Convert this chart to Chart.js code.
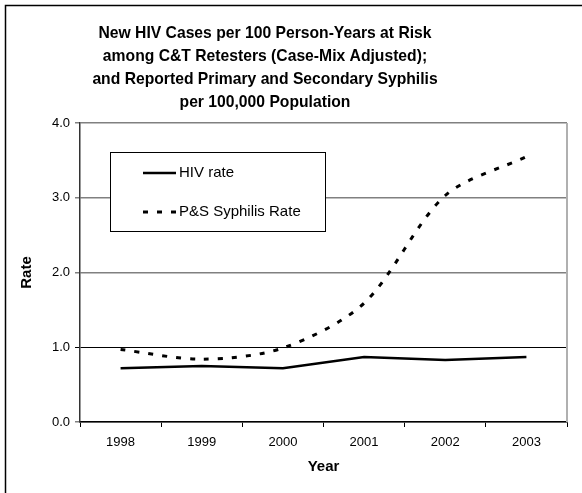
<!DOCTYPE html>
<html>
<head>
<meta charset="utf-8">
<script src="https://cdn.jsdelivr.net/npm/chart.js@4.4.0/dist/chart.umd.min.js"></script>
<style>
  html, body { margin: 0; padding: 0; background: #fff; }
  #wrap { width: 582px; height: 493px; position: relative; }
</style>
</head>
<body>
<div id="wrap"><canvas id="chart"></canvas></div>
<script>
	const years = ['1998', '1999', '2000', '2001', '2002', '2003'];
	const hivRate = [0.72, 0.75, 0.72, 0.87, 0.83, 0.87];
	const syphilisRate = [0.97, 0.84, 0.99, 1.59, 3.03, 3.55];
	const titleLines = [
	  'New HIV Cases per 100 Person-Years at Risk',
	  'among C&T Retesters (Case-Mix Adjusted);',
	  'and Reported Primary and Secondary Syphilis',
	  'per 100,000 Population'
	];

	const FONT = 'Arial, "Liberation Sans", sans-serif';

	// frame, title, right edge and the boxed legend
	const decor = {
	  id: 'decor',
	  beforeDraw(chart) {
	    const ctx = chart.ctx;
	    ctx.save();
	    ctx.fillStyle = '#fff';
	    ctx.fillRect(0, 0, chart.width, chart.height);
	    ctx.strokeStyle = '#000';
	    ctx.lineWidth = 1.5;
	    ctx.strokeRect(5.5, 5.5, 700, 700);
	    ctx.restore();
	  },
	  afterDraw(chart) {
	    const ctx = chart.ctx;
	    const area = chart.chartArea;
	    ctx.save();
	    // title
	    ctx.fillStyle = '#000';
	    ctx.font = 'bold 15.7px ' + FONT;
	    ctx.textAlign = 'center';
	    ctx.textBaseline = 'middle';
	    titleLines.forEach((t, i) => ctx.fillText(t, 265, 34 + i * 23));
	    // right edge of plot
	    ctx.strokeStyle = '#b0b0b0';
	    ctx.lineWidth = 2;
	    ctx.beginPath();
	    ctx.moveTo(area.right, area.top);
	    ctx.lineTo(area.right, area.bottom);
	    ctx.stroke();
	    // legend box
	    ctx.fillStyle = '#fff';
	    ctx.fillRect(110, 152, 216, 80);
	    ctx.strokeStyle = '#000';
	    ctx.lineWidth = 1;
	    ctx.strokeRect(110.5, 152.5, 215, 79);
	    const rows = [173, 212];
	    chart.data.datasets.forEach((ds, i) => {
	      const y = rows[i];
	      ctx.strokeStyle = ds.borderColor;
	      ctx.lineWidth = ds.borderWidth;
	      ctx.setLineDash(ds.borderDash || []);
	      ctx.beginPath();
	      ctx.moveTo(143, y);
	      ctx.lineTo(176, y);
	      ctx.stroke();
	      ctx.setLineDash([]);
	      ctx.fillStyle = '#000';
	      ctx.font = '15px ' + FONT;
	      ctx.textAlign = 'left';
	      ctx.fillText(ds.label, 179, y);
	    });
	    ctx.restore();
	  }
	};

	const data = {
	  labels: years,
	  datasets: [
	    {
	      label: 'HIV rate',
	      data: hivRate,
	      borderColor: '#000',
	      borderWidth: 2.5,
	      pointRadius: 0,
	      tension: 0
	    },
	    {
	      label: 'P&S Syphilis Rate',
	      data: syphilisRate,
	      borderColor: '#000',
	      borderWidth: 3,
	      borderDash: [5, 9],
	      pointRadius: 0,
	      tension: 0.3
	    }
	  ]
	};

	const config = {
	  type: 'line',
	  data: data,
	  plugins: [decor],
	  options: {
	    responsive: false,
	    animation: false,
	    devicePixelRatio: 1,
	    layout: { padding: { left: 0, top: 123, right: 15, bottom: 0 } },
	    plugins: {
	      legend: { display: false },
	      title: { display: false },
	      tooltip: { enabled: false }
	    },
	    scales: {
	      x: {
	        offset: true,
	        afterFit: (s) => { s.height = 71; },
	        grid: {
	          offset: true,
	          drawOnChartArea: false,
	          drawTicks: true,
	          tickLength: 5,
	          color: '#000'
	        },
	        border: { color: '#000', width: 1.5 },
	        ticks: {
	          color: '#000',
	          padding: 8,
	          font: { family: FONT, size: 13 }
	        },
	        title: {
	          display: true,
	          text: 'Year',
	          color: '#000',
	          font: { family: FONT, size: 15, weight: 'bold' },
	          padding: { top: 0, bottom: 17 }
	        }
	      },
	      y: {
	        min: 0,
	        max: 4,
	        afterFit: (s) => { s.width = 80; },
	        grid: {
	          color: (c) => (c.tick && c.tick.value === 1 ? '#000' : '#808080'),
	          lineWidth: (c) => (c.tick && c.tick.value === 1 ? 1 : 1.5),
	          tickLength: 5,
	          drawTicks: true
	        },
	        border: { color: '#333', width: 1.5 },
	        ticks: {
	          stepSize: 1,
	          color: '#000',
	          padding: 5,
	          font: { family: FONT, size: 13 },
	          callback: (v) => Number(v).toFixed(1)
	        },
	        title: {
	          display: true,
	          text: 'Rate',
	          color: '#000',
	          font: { family: FONT, size: 15, weight: 'bold' },
	          padding: { top: 18, bottom: 0 }
	        }
	      }
	    }
	  }
	};

	const canvas = document.getElementById('chart');
	canvas.width = 582;
	canvas.height = 493;
	new Chart(canvas, config);
</script>
</body>
</html>
